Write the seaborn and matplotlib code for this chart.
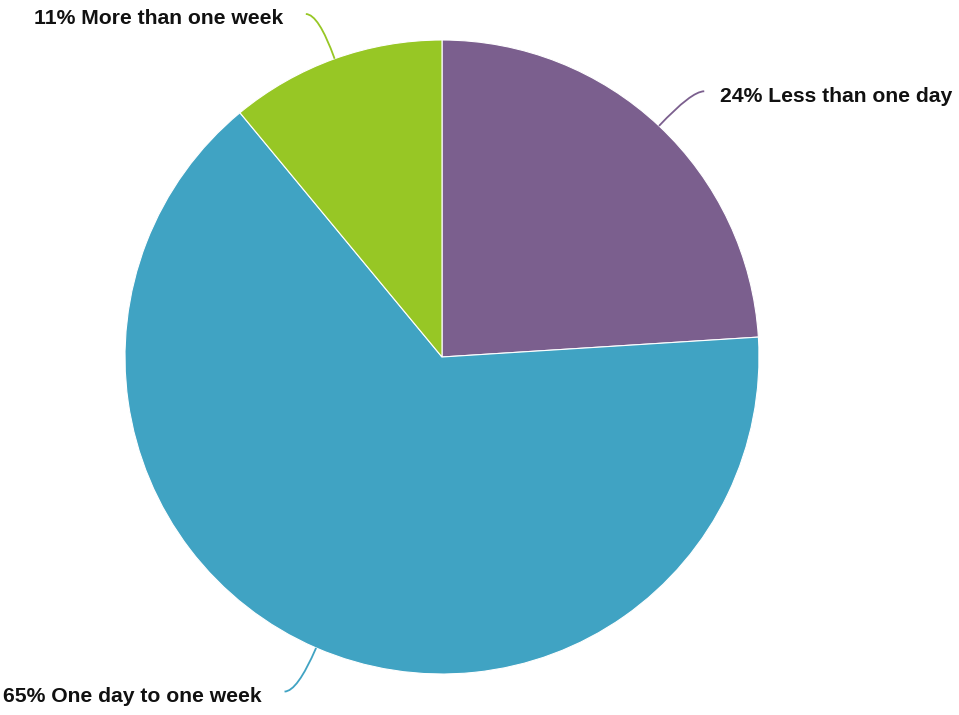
import numpy as np
import matplotlib
matplotlib.use("Agg")
import matplotlib.pyplot as plt
from matplotlib.path import Path
from matplotlib.patches import PathPatch
import seaborn as sns

# Share of responses per duration bucket (percent)
categories = ["Less than one day", "One day to one week", "More than one week"]
shares = [24, 65, 11]
colors = ["#7B5F8E", "#40A3C3", "#97C725"]

sns.set_theme(style="white")
plt.rcParams["font.family"] = ["Liberation Sans", "DejaVu Sans"]

W, H, DPI = 959, 715, 100
fig = plt.figure(figsize=(W / DPI, H / DPI), dpi=DPI)
cx, cy, r = 442, 357, 317
ax = fig.add_axes([(cx - r) / W, (H - cy - r) / H, 2 * r / W, 2 * r / H])

wedges, _ = ax.pie(
    shares,
    colors=colors,
    startangle=90,
    counterclock=False,
    radius=1.0,
    wedgeprops=dict(edgecolor="white", linewidth=0.8),
)
ax.set_xlim(-1, 1)
ax.set_ylim(-1, 1)
ax.set_aspect("equal")
ax.axis("off")

# Curved leader lines from each wedge's mid-angle, ending horizontally
total = float(sum(shares))
start = 0.0
for label, val, col in zip(categories, shares, colors):
    mid = (start + val / 2) / total * 2 * np.pi  # clockwise from 12 o'clock
    start += val
    d = np.array([np.sin(mid), np.cos(mid)])
    side = 1 if d[0] >= 0 else -1
    p0 = 1.0 * d
    p1 = 1.15 * d
    p2 = p1 + np.array([side * 0.04, 0.0])
    path = Path([p0, p1, p2], [Path.MOVETO, Path.CURVE3, Path.CURVE3])
    ax.add_patch(PathPatch(path, facecolor="none", edgecolor=col, lw=1.3,
                           clip_on=False))
    gap = 11.5 if side > 0 else 16.5
    ax.annotate(
        f"{val}% {label}",
        xy=p2,
        xytext=(side * gap, -3.5),
        textcoords="offset points",
        ha="left" if side > 0 else "right",
        va="center",
        fontsize=15.2,
        fontweight="bold",
        color="#111111",
        annotation_clip=False,
    )

fig.savefig("out.png", dpi=DPI, facecolor="white")
